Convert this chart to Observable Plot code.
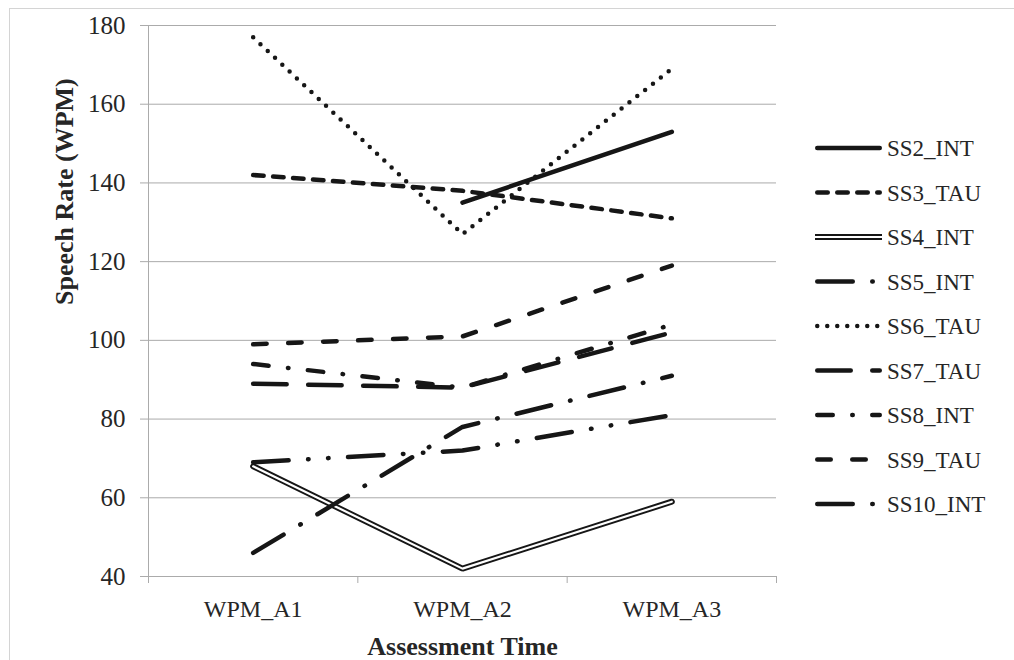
<!DOCTYPE html>
<html><head><meta charset="utf-8">
<script src="https://cdn.jsdelivr.net/npm/d3@7"></script>
<script src="https://cdn.jsdelivr.net/npm/@observablehq/plot@0.6"></script>
<style>
html,body{margin:0;padding:0;background:#fff;overflow:hidden;width:1014px;height:660px;}
#frame{position:absolute;left:9px;top:8px;width:1200px;height:800px;border:1px solid #d4d4d4;}
#chart{position:absolute;left:0;top:0;}
</style></head><body>
<div id="frame"></div><div id="chart"></div>
<script>
const categories = ["WPM_A1", "WPM_A2", "WPM_A3"];
const seriesNames = ["SS2_INT","SS3_TAU","SS4_INT","SS5_INT","SS6_TAU","SS7_TAU","SS8_INT","SS9_TAU","SS10_INT"];
const ss2_int  = [null, 135, 153];
const ss3_tau  = [142, 138, 131];
const ss4_int  = [68, 42, 59];
const ss5_int  = [46, 78, 91];
const ss6_tau  = [177, 127, 169];
const ss7_tau  = [89, 88, 102];
const ss8_int  = [94, 88, 104];
const ss9_tau  = [99, 101, 119];
const ss10_int = [69, 72, 81];
const yTicks = [40, 60, 80, 100, 120, 140, 160, 180];
const yTitle = "Speech Rate (WPM)";
const xTitle = "Assessment Time";

const seriesValues = [ss2_int, ss3_tau, ss4_int, ss5_int, ss6_tau, ss7_tau, ss8_int, ss9_tau, ss10_int];

// line styles (Excel-like presets)
const styles = {
  "SS2_INT":  {dash: null},
  "SS3_TAU":  {dash: "10.5 9.5"},
  "SS4_INT":  {double: true},
  "SS5_INT":  {dash: "35.5 19.5 0.5 19.5"},
  "SS6_TAU":  {dash: "0 10"},
  "SS7_TAU":  {dash: "33.5 21.5"},
  "SS8_INT":  {dash: "15.5 19.5 0.5 19.5"},
  "SS9_TAU":  {dash: "13.5 21.5"},
  "SS10_INT": {dash: "35.5 19.5 0.5 19.5 0.5 19.5"}
};

const INK = "#161616";
const GRID = "#ababab";
const TEXT = "#262626";
const FONT = "'Liberation Serif', 'Times New Roman', serif";
const LW = 4.5;

const table = [];
seriesNames.forEach((name, s) => {
  seriesValues[s].forEach((v, i) => {
    if (v != null) table.push({series: name, x: i + 0.5, y: v});
  });
});

const lineMarks = [];
seriesNames.forEach(name => {
  const data = table.filter(d => d.series === name);
  const st = styles[name];
  if (st.double) {
    lineMarks.push(Plot.line(data, {x: "x", y: "y", stroke: INK, strokeWidth: 6, strokeLinejoin: "miter"}));
    lineMarks.push(Plot.line(data, {x: "x", y: "y", stroke: "#fff", strokeWidth: 2.2, strokeLinejoin: "miter"}));
  } else {
    lineMarks.push(Plot.line(data, {x: "x", y: "y", stroke: INK, strokeWidth: LW,
      strokeDasharray: st.dash || undefined, strokeLinecap: "round", strokeLinejoin: "round"}));
  }
});

const chart = Plot.plot({
  width: 1014,
  height: 660,
  marginLeft: 148,
  marginRight: 238,
  marginTop: 25,
  marginBottom: 84,
  style: {background: "transparent", overflow: "visible", fontFamily: FONT},
  x: {type: "linear", domain: [0, categories.length]},
  y: {domain: [40, 180]},
  marks: [
    Plot.gridY(yTicks, {stroke: GRID, strokeOpacity: 1, strokeWidth: 1}),
    Plot.ruleX([0], {stroke: GRID, strokeWidth: 1}),
    Plot.axisY({ticks: yTicks, tickSize: 8, tickPadding: 15, stroke: GRID, strokeOpacity: 1, fill: TEXT,
      fontSize: 25, fontFamily: FONT, label: null}),
    Plot.axisX({ticks: d3.range(categories.length + 1), tickSize: 7, tickFormat: () => "", stroke: GRID, strokeOpacity: 1, label: null}),
    Plot.axisX({ticks: categories.map((c, i) => i + 0.5), tickSize: 0, tickPadding: 23,
      tickFormat: v => categories[Math.round(v - 0.5)], fill: TEXT, fontSize: 24, fontFamily: FONT, label: null}),
    ...lineMarks,
    Plot.text([yTitle], {frameAnchor: "left", rotate: -90, dx: -84, dy: 4, fontSize: 26, fontWeight: "bold",
      fontFamily: FONT, fill: TEXT, lineAnchor: "middle"}),
    Plot.text([xTitle], {frameAnchor: "bottom", dy: 70, fontSize: 26, fontWeight: "bold",
      fontFamily: FONT, fill: TEXT, lineAnchor: "middle"})
  ]
});

// legend
const svg = d3.select(chart);
const lg = svg.append("g").attr("class", "legend").attr("text-anchor", "start");
const lx0 = 815, lx1 = 882, ly0 = 148, lstep = 44.5;
seriesNames.forEach((name, i) => {
  const y = ly0 + i * lstep;
  const st = styles[name];
  if (st.double) {
    lg.append("line").attr("x1", lx0).attr("x2", lx1).attr("y1", y).attr("y2", y)
      .attr("stroke", INK).attr("stroke-width", 6);
    lg.append("line").attr("x1", lx0).attr("x2", lx1).attr("y1", y).attr("y2", y)
      .attr("stroke", "#fff").attr("stroke-width", 2.2);
  } else {
    const l = lg.append("line").attr("x1", lx0 + LW / 2).attr("x2", lx1 - LW / 2).attr("y1", y).attr("y2", y)
      .attr("stroke", INK).attr("stroke-width", LW).attr("stroke-linecap", "round");
    if (st.dash) l.attr("stroke-dasharray", st.dash);
  }
  lg.append("text").attr("x", lx1 + 5).attr("y", y).attr("dy", "0.36em").attr("text-anchor", "start")
    .attr("font-family", FONT).attr("font-size", 23).attr("fill", TEXT).text(name);
});

document.getElementById("chart").appendChild(chart);
</script>
</body></html>
